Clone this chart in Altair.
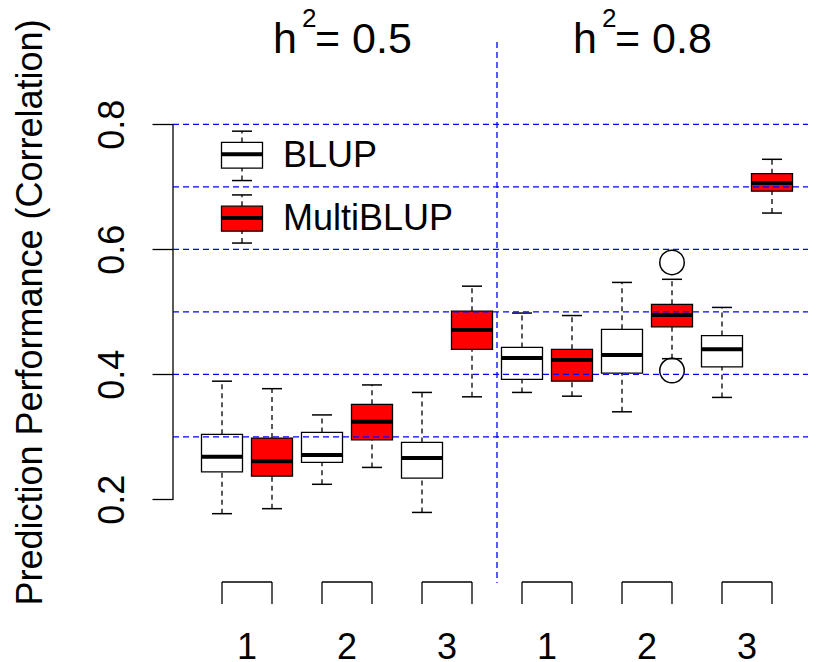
import altair as alt
import pandas as pd

# ---------------- data ----------------
methods = ["BLUP", "MultiBLUP"] * 6
box_pos = list(range(1, 13))
lower = [0.177, 0.185, 0.224, 0.251, 0.179, 0.364, 0.371, 0.365, 0.340, 0.425, 0.363, 0.658]
q1 = [0.244, 0.237, 0.259, 0.295, 0.234, 0.440, 0.392, 0.389, 0.402, 0.476, 0.412, 0.693]
median = [0.268, 0.261, 0.271, 0.324, 0.266, 0.471, 0.426, 0.423, 0.431, 0.495, 0.440, 0.706]
q3 = [0.304, 0.298, 0.307, 0.352, 0.291, 0.501, 0.443, 0.440, 0.472, 0.512, 0.462, 0.721]
upper = [0.389, 0.377, 0.335, 0.383, 0.371, 0.541, 0.498, 0.494, 0.547, 0.552, 0.507, 0.744]

outlier_box = [10, 10]
outlier_val = [0.579, 0.406]

# legend glyphs (drawn as small boxplots, as in the original)
legend_methods = ["BLUP", "MultiBLUP"]
legend_lower = [0.710, 0.610]
legend_q1 = [0.730, 0.629]
legend_median = [0.752, 0.650]
legend_q3 = [0.771, 0.669]
legend_upper = [0.789, 0.687]
legend_text_y = [0.732, 0.631]
LEGEND_POS = 1.4
LEGEND_TEXT_POS = 2.22

gridlines = [0.3, 0.4, 0.5, 0.6, 0.7, 0.8]
y_ticks = [0.2, 0.4, 0.6, 0.8]
group_labels = ["1", "2", "3", "1", "2", "3"]
heritability = ["0.5", "0.8"]
y_title = "Prediction Performance (Correlation)"

FONT = "Liberation Sans"
W, H = 635, 541

# ---------------- tables ----------------
box_df = pd.DataFrame(dict(pos=box_pos, method=methods, lower=lower, q1=q1,
                           median=median, q3=q3, upper=upper))
leg_df = pd.DataFrame(dict(pos=[LEGEND_POS] * 2, method=legend_methods, lower=legend_lower,
                           q1=legend_q1, median=legend_median, q3=legend_q3, upper=legend_upper))
all_df = pd.concat([box_df, leg_df], ignore_index=True)

out_df = pd.DataFrame(dict(pos=outlier_box, val=outlier_val))
grid_df = pd.DataFrame(dict(g=gridlines))
n_groups = len(group_labels)
grp_df = pd.DataFrame(dict(a=[2 * i + 1 for i in range(n_groups)],
                           b=[2 * i + 2 for i in range(n_groups)],
                           m=[2 * i + 1.5 for i in range(n_groups)],
                           label=group_labels))
panel_df = pd.DataFrame(dict(c=[(len(box_pos) / 4) + 0.5, 3 * len(box_pos) / 4 + 0.5],
                             label=["= " + h for h in heritability]))
div_df = pd.DataFrame(dict(x=[len(box_pos) / 2 + 0.5]))
axis_df = pd.DataFrame(dict(y0=[min(y_ticks)], y1=[max(y_ticks)]))
legtxt_df = pd.DataFrame(dict(x=[LEGEND_TEXT_POS] * 2, y=legend_text_y, label=legend_methods))

xs = alt.Scale(domain=[0.02, 12.72], nice=False, zero=False)
ys = alt.Scale(domain=[0.06608, 0.93168], nice=False, zero=False)

def X(f):
    return alt.X(f, scale=xs, axis=None)

def Y(f):
    return alt.Y(f, scale=ys, axis=None)

base = alt.Chart(all_df).transform_calculate(
    x0="datum.pos - 0.41", x1="datum.pos + 0.41",
    c0="datum.pos - 0.2", c1="datum.pos + 0.2")

whisk_up = base.mark_rule(color="black", strokeWidth=1.3, strokeDash=[5, 4]).encode(
    x=X("pos:Q"), y=Y("q3:Q"), y2="upper:Q")
whisk_lo = base.mark_rule(color="black", strokeWidth=1.3, strokeDash=[5, 4]).encode(
    x=X("pos:Q"), y=Y("lower:Q"), y2="q1:Q")
cap_up = base.mark_rule(color="black", strokeWidth=1.5).encode(
    x=X("c0:Q"), x2="c1:Q", y=Y("upper:Q"))
cap_lo = base.mark_rule(color="black", strokeWidth=1.5).encode(
    x=X("c0:Q"), x2="c1:Q", y=Y("lower:Q"))

yaxis = alt.Axis(values=y_ticks, format=".1f", domain=False, grid=False,
                 tickSize=21, tickColor="black", tickWidth=1.3,
                 labelAngle=270, labelAlign="center", labelBaseline="alphabetic",
                 labelPadding=29, labelFont=FONT, labelFontSize=36, labelColor="black",
                 labelFlush=False, labelOverlap=False,
                 title=y_title, titleFont=FONT, titleFontSize=36, titleFontWeight="normal",
                 titleColor="black", titleAngle=270, titleX=-132, titleY=270,
                 titleAlign="center", titleBaseline="alphabetic")

boxes = base.mark_rect(stroke="black", strokeWidth=1.3).encode(
    x=X("x0:Q"), x2="x1:Q",
    y=alt.Y("q1:Q", scale=ys, axis=yaxis), y2="q3:Q",
    color=alt.Color("method:N", scale=alt.Scale(domain=legend_methods, range=["white", "#FF0000"]),
                    legend=None))
medians = base.mark_rule(color="black", strokeWidth=4, strokeCap="butt").encode(
    x=X("x0:Q"), x2="x1:Q", y=Y("median:Q"))

outliers = alt.Chart(out_df).mark_point(shape="circle", filled=False, size=600,
                                        stroke="black", strokeWidth=1.5, opacity=1).encode(
    x=X("pos:Q"), y=Y("val:Q"))

y_line = alt.Chart(axis_df).mark_rule(color="black", strokeWidth=1.3).encode(
    x=alt.value(0), y=Y("y0:Q"), y2="y1:Q")

grid = alt.Chart(grid_df).mark_rule(color="#0000FF", strokeWidth=1.3, strokeDash=[6, 4]).encode(
    x=alt.value(0), x2=alt.value(W), y=Y("g:Q"))
divider = alt.Chart(div_df).mark_rule(color="#0000FF", strokeWidth=1.3, strokeDash=[6, 4]).encode(
    x=X("x:Q"), y=alt.value(0), y2=alt.value(H))

br_top = alt.Chart(grp_df).mark_rule(color="black", strokeWidth=1.3).encode(
    x=X("a:Q"), x2="b:Q", y=alt.value(540))
br_l = alt.Chart(grp_df).mark_rule(color="black", strokeWidth=1.3).encode(
    x=X("a:Q"), y=alt.value(540), y2=alt.value(562))
br_r = alt.Chart(grp_df).mark_rule(color="black", strokeWidth=1.3).encode(
    x=X("b:Q"), y=alt.value(540), y2=alt.value(562))
grp_text = alt.Chart(grp_df).mark_text(font=FONT, fontSize=36, align="center",
                                       baseline="alphabetic", color="black").encode(
    x=X("m:Q"), y=alt.value(617), text="label:N")

t_h = alt.Chart(panel_df).mark_text(font=FONT, fontSize=43, align="left", baseline="alphabetic",
                                    dx=-74, color="black").encode(
    x=X("c:Q"), y=alt.value(11), text=alt.value("h"))
t_sup = alt.Chart(panel_df).mark_text(font=FONT, fontSize=26, align="left", baseline="alphabetic",
                                      dx=-45, color="black").encode(
    x=X("c:Q"), y=alt.value(-15), text=alt.value("2"))
t_rest = alt.Chart(panel_df).mark_text(font=FONT, fontSize=43, align="left", baseline="alphabetic",
                                       dx=-32, color="black").encode(
    x=X("c:Q"), y=alt.value(11), text="label:N")

leg_text = alt.Chart(legtxt_df).mark_text(font=FONT, fontSize=36, align="left",
                                          baseline="alphabetic", color="black").encode(
    x=X("x:Q"), y=Y("y:Q"), text="label:N")

chart = alt.layer(
    boxes, whisk_up, whisk_lo, cap_up, cap_lo, medians, outliers, y_line,
    grid, divider, br_top, br_l, br_r, grp_text, t_h, t_sup, t_rest, leg_text
).resolve_axis(y="independent").properties(
    width=W, height=H,
    autosize=alt.AutoSizeParams(type="none"),
    padding={"left": 165, "top": 34, "right": 0, "bottom": 80},
    background="white",
).configure_view(stroke=None)

chart.save("out.html", embed_options={"renderer": "svg", "actions": False})
